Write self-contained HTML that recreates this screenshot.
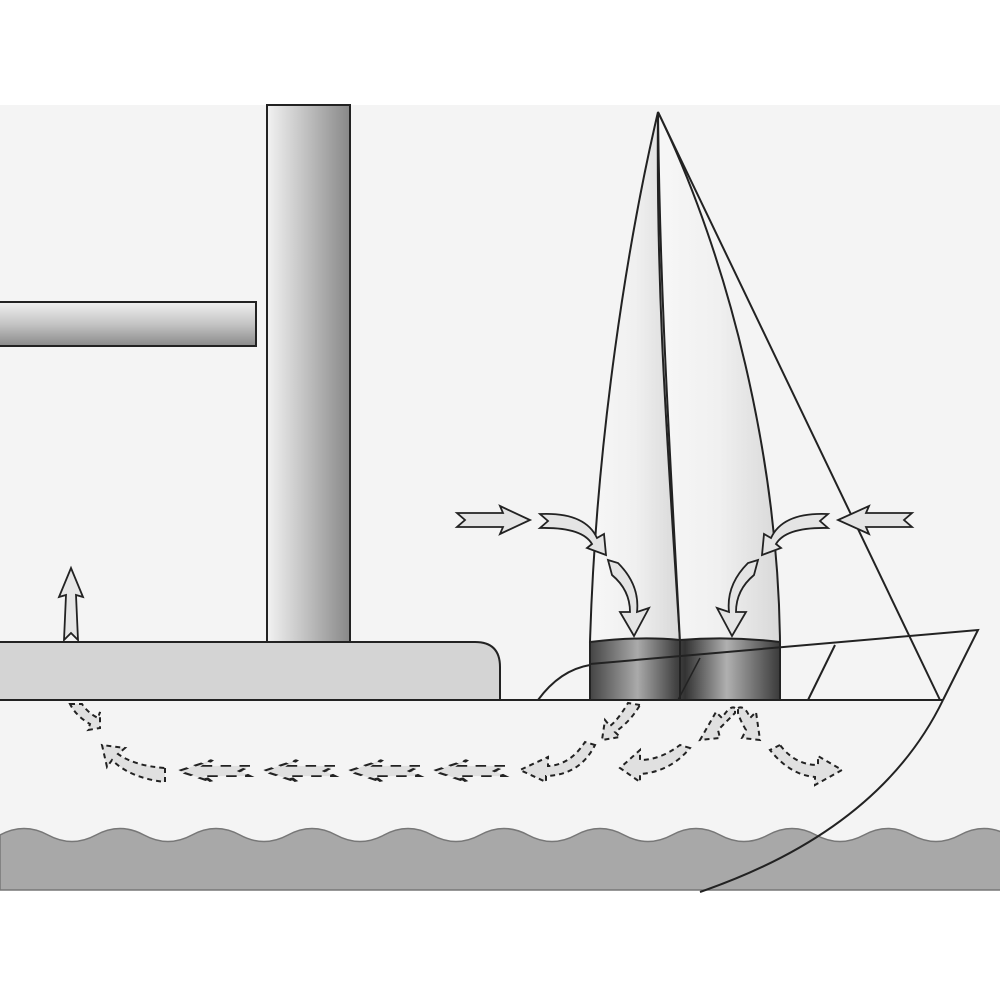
<!DOCTYPE html>
<html><head><style>html,body{margin:0;padding:0;background:#fff}</style></head><body>
<svg width="1000" height="1000" viewBox="0 0 1000 1000" xmlns="http://www.w3.org/2000/svg">
<defs>
<linearGradient id="mast" x1="0" x2="1"><stop offset="0" stop-color="#f2f2f2"/><stop offset="0.4" stop-color="#c8c8c8"/><stop offset="1" stop-color="#888"/></linearGradient>
<linearGradient id="boom" x1="0" y1="0" x2="0" y2="1"><stop offset="0" stop-color="#f0f0f0"/><stop offset="0.5" stop-color="#c4c4c4"/><stop offset="1" stop-color="#8a8a8a"/></linearGradient>
<linearGradient id="sail" x1="0" x2="1"><stop offset="0" stop-color="#f7f7f7"/><stop offset="0.5" stop-color="#f0f0f0"/><stop offset="1" stop-color="#d8d8d8"/></linearGradient>
<linearGradient id="band" x1="0" x2="1"><stop offset="0" stop-color="#444"/><stop offset="0.25" stop-color="#aaa"/><stop offset="0.45" stop-color="#444"/><stop offset="0.5" stop-color="#333"/><stop offset="0.72" stop-color="#b0b0b0"/><stop offset="1" stop-color="#3a3a3a"/></linearGradient>
<path id="ba" d="M0,-7 L22,-7 L20,-14 L36,0 L20,14 L22,7 L0,7 L5,0 Z"/>
<path id="da" d="M0,-6 L22,-6 L18,-13 L34,0 L18,13 L22,6 L0,6 L5,0 Z"/>
</defs>
<rect x="0" y="105" width="1000" height="785" fill="#f4f4f4"/>
<!-- water -->
<path d="M0,835 Q24,822 48,835 T96,835 T144,835 T192,835 T240,835 T288,835 T336,835 T384,835 T432,835 T480,835 T528,835 T576,835 T624,835 T672,835 T720,835 T768,835 T816,835 T864,835 T912,835 T960,835 T1008,835 L1008,890 L0,890 Z" fill="#a8a8a8" stroke="#777" stroke-width="1.5"/>
<!-- mast -->
<rect x="267" y="105" width="83" height="537" fill="url(#mast)" stroke="#222" stroke-width="2"/>
<!-- boom -->
<rect x="-2" y="302" width="258" height="44" fill="url(#boom)" stroke="#222" stroke-width="2"/>
<!-- cabin -->
<path d="M-2,642 L475,642 Q500,642 500,667 L500,700 L-2,700 Z" fill="#d4d4d4" stroke="#222" stroke-width="2"/>
<!-- up arrow -->
<path d="M64,640 L66,595 L59,597 L71,568 L83,597 L76,595 L78,640 L71,633 Z" fill="#e6e6e6" stroke="#222" stroke-width="1.8"/>
<!-- sails -->
<path d="M658,112 C628,240 596,440 590,642 L680,642 C668,450 656,300 658,112 Z" fill="url(#sail)" stroke="#222" stroke-width="2"/>
<path d="M658,112 C660,300 670,450 680,642 L780,642 C778,460 730,260 658,112 Z" fill="url(#sail)" stroke="#222" stroke-width="2"/>
<path d="M590,642 Q640,636 680,640 Q730,636 780,642 L780,700 L590,700 Z" fill="url(#band)" stroke="#222" stroke-width="2"/>
<line x1="680" y1="640" x2="680" y2="700" stroke="#222" stroke-width="2"/>
<line x1="658" y1="112" x2="940" y2="700" stroke="#222" stroke-width="2"/>
<!-- deck lines -->
<path d="M590,664 L978,630 L943,700" fill="none" stroke="#222" stroke-width="2"/>
<path d="M538,700 Q560,670 590,665" fill="none" stroke="#222" stroke-width="2"/>
<path d="M700,658 L678,700" fill="none" stroke="#222" stroke-width="1.5"/>
<path d="M835,645 L808,700" fill="none" stroke="#222" stroke-width="2"/>
<line x1="0" y1="700" x2="943" y2="700" stroke="#222" stroke-width="2"/>
<path d="M943,700 Q880,830 700,892" fill="none" stroke="#222" stroke-width="2"/>
<!-- solid arrows -->
<g fill="#e4e4e4" stroke="#222" stroke-width="1.8">
<path d="M457,513 L503,513 L500,506 L530,520 L500,534 L503,527 L457,527 L465,520 Z"/>
<path d="M912,513 L866,513 L869,506 L838,520 L869,534 L866,527 L912,527 L904,520 Z"/>
<path d="M540,514 Q585,512 597,538 L604,534 L606,555 L587,548 L592,544 Q582,527 540,528 L548,521 Z"/>
<path d="M828,514 Q783,512 771,538 L764,534 L762,555 L781,548 L776,544 Q786,527 828,528 L820,521 Z"/>
<path d="M608,560 L618,563 Q640,585 637,612 L649,608 L634,636 L620,612 L630,612 Q630,590 612,575 Z"/>
<path d="M758,560 L748,563 Q726,585 729,612 L717,608 L732,636 L746,612 L736,612 Q736,590 754,575 Z"/>
</g>
<!-- dashed arrows -->
<g fill="#e0e0e0" stroke="#222" stroke-width="2" stroke-dasharray="5,4">
<use href="#da" transform="translate(250,771) scale(-2.1,0.85)"/>
<use href="#da" transform="translate(335,771) scale(-2.1,0.85)"/>
<use href="#da" transform="translate(420,771) scale(-2.1,0.85)"/>
<use href="#da" transform="translate(505,771) scale(-2.1,0.85)"/>
<path d="M165,768 L165,782 Q130,778 112,760 L107,767 L102,745 L125,748 L118,754 Q135,766 165,768 Z"/>
<path d="M70,704 L82,704 Q88,713 98,718 L100,712 L100,728 L88,730 L90,724 Q76,716 70,704 Z"/>
<path d="M595,745 L585,742 Q570,765 548,766 L548,757 L520,770 L546,782 L546,776 Q580,775 595,745 Z"/>
<path d="M640,705 L628,703 Q618,720 610,726 L605,720 L602,740 L620,737 L615,732 Q630,722 640,705 Z"/>
<path d="M690,748 L680,745 Q660,760 640,760 L640,750 L620,768 L640,782 L640,774 Q670,772 690,748 Z"/>
<path d="M735,708 Q730,705 722,718 L716,712 L700,740 L720,738 L718,730 Q728,720 735,713 Z"/>
<path d="M738,708 Q745,705 750,718 L756,712 L760,740 L742,738 L746,730 Q740,720 738,713 Z"/>
<path d="M780,745 L770,750 Q790,775 815,777 L815,785 L842,770 L818,756 L818,765 Q795,765 780,745 Z"/>
</g>
</svg>
</body></html>
